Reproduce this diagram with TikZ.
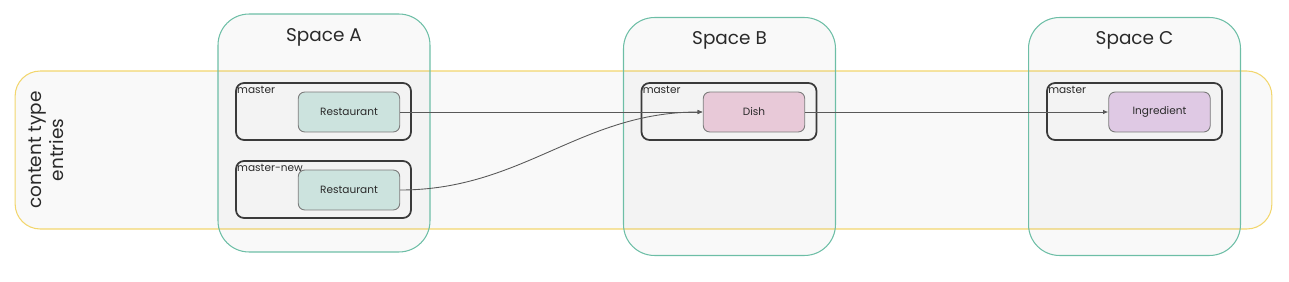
\documentclass[tikz,border=0pt]{standalone}
\usepackage{fontspec}
\setmainfont{Poppins}
\usepackage{tikz}
\usetikzlibrary{arrows.meta, positioning}

\definecolor{bandline}{HTML}{F2D66E}
\definecolor{spaceline}{HTML}{6DBEA6}
\definecolor{boxline}{HTML}{3A3A3A}
\definecolor{entryline}{HTML}{7A7A7A}
\definecolor{restfill}{HTML}{CCE3DE}
\definecolor{dishfill}{HTML}{E8C9D8}
\definecolor{ingrfill}{HTML}{DFC9E4}
\definecolor{txt}{HTML}{2A2A2A}

\tikzset{
  band/.style={draw=bandline, line width=0.6pt, fill=black, fill opacity=0.025,
    rounded corners=0.5cm, minimum width=25.14cm, minimum height=3.16cm},
  space/.style={draw=spaceline, line width=0.6pt, fill=black, fill opacity=0.025,
    rounded corners=0.62cm, minimum width=4.24cm, minimum height=4.76cm},
  spacetitle/.style={text=txt, font=\fontsize{10.5}{12}\selectfont},
  branch/.style={draw=boxline, line width=1pt, rounded corners=0.16cm,
    minimum width=3.5cm, minimum height=1.14cm},
  branchname/.style={anchor=north west, inner xsep=1pt, inner ysep=2.2pt, text=txt,
    font=\fontsize{6}{7}\selectfont},
  entry/.style={draw=entryline, line width=0.5pt, rounded corners=0.13cm,
    minimum width=2.03cm, minimum height=0.8cm, text=txt,
    font=\fontsize{6}{7}\selectfont},
  link/.style={-{Latex[length=3pt,width=2.6pt]}, draw=black!65, line width=0.5pt}
}

\begin{document}
\begin{tikzpicture}[x=0.02cm, y=-0.02cm]
  \useasboundingbox (0,0) rectangle (1289,281);

  % Bande des types de contenu
  \node[band] (ctband) at (643.5,150) {};
  \node[align=center, rotate=90, text=txt, font=\fontsize{10.5}{12.5}\selectfont]
    (ctlabel) at (46,150) {content type\\entries};

  % Espaces
  \node[space] (spaceA) at (324,133) {};
  \node[space] (spaceB) at (729.5,136.5) {};
  \node[space] (spaceC) at (1134.5,136.5) {};
  \node[spacetitle] (titleA) at (324,37) {Space A};
  \node[spacetitle] (titleB) at (729.5,40) {Space B};
  \node[spacetitle] (titleC) at (1134.5,40) {Space C};

  % Space A : deux branches
  \node[branch] (brA) at (323.5,111.5) {};
  \node[branchname] at (brA.north west) {master};
  \node[entry, fill=restfill] (restA) at (349,112) {Restaurant};

  \node[branch] (brAnew) at (323.5,189.5) {};
  \node[branchname] at (brAnew.north west) {master-new};
  \node[entry, fill=restfill] (restAnew) at (349,190) {Restaurant};

  % Space B
  \node[branch] (brB) at (729,111.5) {};
  \node[branchname] at (brB.north west) {master};
  \node[entry, fill=dishfill] (dish) at (754,112) {Dish};

  % Space C
  \node[branch] (brC) at (1134.5,111.5) {};
  \node[branchname] at (brC.north west) {master};
  \node[entry, fill=ingrfill] (ingr) at (1159.5,112) {Ingredient};

  % Liens
  \draw[link] (restA.east) -- (dish.west);
  \draw[link] (restAnew.east) to[out=0, in=180] (dish.west);
  \draw[link] (dish.east) -- (ingr.west);
\end{tikzpicture}
\end{document}
